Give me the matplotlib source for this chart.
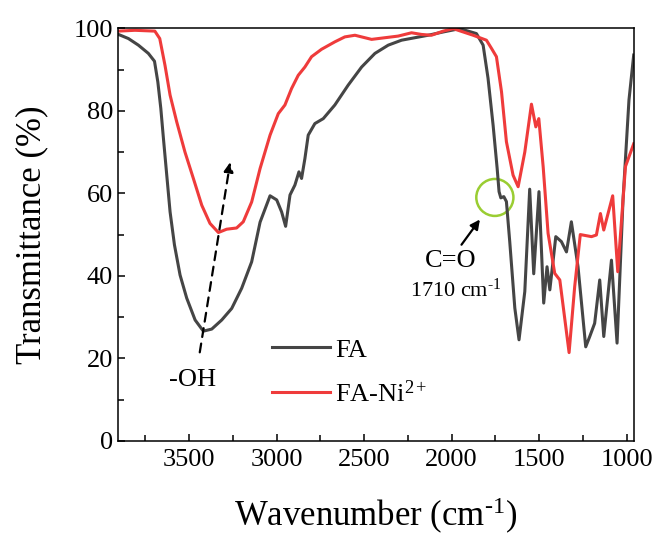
import numpy as np
import matplotlib
matplotlib.use("Agg")
import matplotlib.pyplot as plt
from matplotlib.patches import Ellipse
from matplotlib.ticker import MultipleLocator

plt.rcParams['font.family'] = ['Liberation Serif', 'DejaVu Serif']
plt.rcParams['mathtext.fontset'] = 'custom'
plt.rcParams['mathtext.rm'] = 'Liberation Serif'
plt.rcParams['mathtext.it'] = 'Liberation Serif:italic'

# FTIR spectrum of FA (wavenumber in cm-1, transmittance in %)
fa_wn = [3903, 3846, 3789, 3732, 3697, 3678, 3661, 3646, 3627, 3608, 3583, 3551,
         3513, 3465, 3418, 3370, 3313, 3256, 3199, 3142, 3094, 3037, 2999, 2971,
         2948, 2923, 2895, 2872, 2857, 2838, 2819, 2781, 2733, 2667, 2591, 2514,
         2438, 2362, 2286, 2210, 2134, 2048, 1953, 1858, 1820, 1792, 1763,
         1740, 1729, 1719, 1702, 1687, 1668, 1639, 1615, 1582, 1554, 1531, 1501,
         1474, 1455, 1439, 1405, 1373, 1344, 1316, 1278, 1234, 1211, 1183, 1154,
         1131, 1087, 1055, 1021, 987, 960]
fa_t = [98.5, 97.5, 95.9, 93.9, 92.0, 87.0, 80.6, 73.3, 64.4, 55.5, 47.5, 40.2,
        34.6, 29.3, 26.6, 27.1, 29.3, 32.1, 37.0, 43.4, 53.0, 59.4, 58.4, 55.5,
        52.0, 59.6, 62.0, 65.2, 63.6, 68.4, 74.1, 76.9, 78.1, 81.4, 86.2, 90.6,
        93.9, 95.9, 97.1, 97.7, 98.3, 99.1, 99.9, 98.7, 95.9, 87.9, 76.5,
        66.1, 60.4, 58.9, 59.2, 58.0, 48.3, 32.2, 24.5, 36.2, 61.0, 40.5, 60.4,
        33.4, 42.2, 36.6, 49.5, 48.3, 45.8, 53.1, 42.2, 22.8, 25.3, 28.5, 39.0,
        25.3, 43.8, 23.7, 58.4, 82.6, 93.5]

# FTIR spectrum of FA after Ni2+ binding
fani_wn = [3905, 3808, 3695, 3667, 3637, 3608, 3570, 3523, 3475, 3427, 3380, 3332,
           3285, 3228, 3190, 3142, 3094, 3037, 2990, 2952, 2914, 2876, 2838, 2800,
           2743, 2667, 2610, 2552, 2495, 2457, 2381, 2305, 2229, 2172, 2115, 2048,
           1991, 1877, 1801, 1772, 1744, 1715, 1687, 1649, 1620, 1582, 1544, 1519,
           1502, 1477, 1449, 1411, 1382, 1329, 1297, 1265, 1201, 1173, 1150, 1131,
           1080, 1051, 1007, 960]
fani_t = [99.3, 99.5, 99.3, 97.5, 91.0, 83.8, 77.3, 70.0, 63.6, 57.1, 52.7, 50.5,
          51.3, 51.6, 53.1, 57.9, 66.0, 74.1, 79.3, 81.4, 85.4, 88.6, 90.6, 93.1,
          94.9, 96.7, 97.9, 98.3, 97.7, 97.3, 97.7, 98.1, 98.9, 98.5, 98.3, 99.3,
          99.9, 98.3, 97.1, 95.1, 93.1, 84.6, 72.5, 64.4, 61.6, 70.0, 81.6, 76.1,
          78.1, 66.4, 50.3, 40.6, 39.0, 21.4, 37.4, 50.0, 49.5, 49.9, 55.1, 51.1,
          59.4, 41.0, 66.5, 72.0]

fig = plt.figure(figsize=(6.56, 5.43), dpi=100)
ax = fig.add_axes([0.180, 0.188, 0.786, 0.760])

ax.plot(fa_wn, fa_t, color='#454545', lw=2.2, label='FA')
ax.plot(fani_wn, fani_t, color='#ef3b3b', lw=2.2, label='FA-Ni$^{2+}$')

ax.set_xlim(3905, 960)
ax.set_ylim(0, 100)
ax.xaxis.set_major_locator(MultipleLocator(500))
ax.xaxis.set_minor_locator(MultipleLocator(250))
ax.yaxis.set_major_locator(MultipleLocator(20))
ax.yaxis.set_minor_locator(MultipleLocator(10))
ax.tick_params(which='both', direction='in', labelsize=19, width=1.1)
ax.tick_params(which='major', length=5)
ax.tick_params(which='minor', length=4)
ax.tick_params(axis='x', pad=6)
for s in ax.spines.values():
    s.set_linewidth(1.1)

ax.set_xlabel(r'Wavenumber (cm$^{\text{-1}}$)', fontsize=25, labelpad=18)
ax.set_ylabel('Transmittance (%)', fontsize=25, labelpad=18)

# O-H band shift
ax.annotate('', xy=(3262, 68.2), xytext=(3441, 20.8),
            arrowprops=dict(arrowstyle='-|>', linestyle=(0, (4, 3)), color='black',
                            lw=1.6, mutation_scale=14))
ax.text(3477, 14.8, '-OH', fontsize=19, ha='center', va='center')

# carbonyl shoulder
ax.add_patch(Ellipse((1753, 59.0), 212, 8.96, fill=False, ec='#9acd32', lw=1.8))
ax.annotate('', xy=(1829, 54.2), xytext=(1953, 47.0),
            arrowprops=dict(arrowstyle='-|>', color='black', lw=1.6, mutation_scale=14))
ax.text(2004, 43.6, 'C=O', fontsize=19, ha='center', va='center')
ax.text(1976, 36.6, r'1710 cm$^{\text{-1}}$', fontsize=16, ha='center', va='center')

ax.legend(loc='center left', bbox_to_anchor=(0.278, 0.166), borderaxespad=0,
          frameon=False, fontsize=19, handlelength=2.2, labelspacing=0.7,
          handletextpad=0.2)

fig.savefig('out.png', dpi=100)
